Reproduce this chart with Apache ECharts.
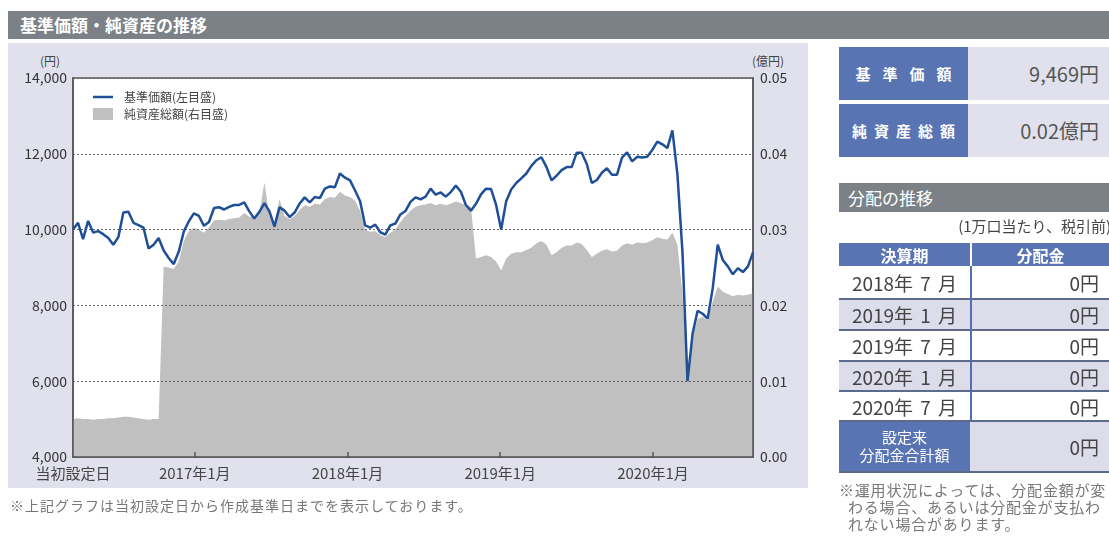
<!DOCTYPE html>
<html><head><meta charset="utf-8">
<script src="https://cdn.jsdelivr.net/npm/echarts@6/dist/echarts.min.js"></script>
<style>
html,body{margin:0;padding:0;background:#fff;}
body{width:1109px;height:536px;overflow:hidden;position:relative;font-family:"Noto Sans CJK JP","Noto Sans",sans-serif;}
.abs{position:absolute;box-sizing:border-box;}
.bar{background:#7b8186;color:#fff;font-weight:bold;}
.blue{background:#5874b2;color:#fff;}
.lav{background:#e1e1ed;}
.cellL{display:flex;align-items:center;justify-content:center;color:#444;font-size:19px;word-spacing:3px;}
.cellR{display:flex;align-items:center;justify-content:flex-end;padding-right:10px;color:#444;font-size:19px;}
.note{position:absolute;font-size:14px;line-height:17px;height:17px;color:#777;white-space:nowrap;}
</style></head>
<body>
<div class="abs bar" style="left:8px;top:11px;width:1101px;height:28px;font-size:17px;line-height:28px;padding-left:12px;">基準価額・純資産の推移</div>
<div class="abs lav" style="left:8px;top:43px;width:800px;height:445px;"></div>
<div class="abs" style="left:40px;top:52px;font-size:12px;color:#444;">(円)</div>
<div class="abs" style="left:752px;top:52px;font-size:12px;color:#444;">(億円)</div>
<div id="chart" class="abs" style="left:0;top:0;width:1109px;height:536px;"></div>
<div class="note" style="left:10px;top:497px;letter-spacing:1px;">※上記グラフは当初設定日から作成基準日までを表示しております。</div>

<div class="abs blue" style="left:839px;top:47px;width:129px;height:53px;display:flex;align-items:center;justify-content:center;font-size:15px;font-weight:bold;letter-spacing:12px;padding-left:12px;">基準価額</div>
<div class="abs lav cellR" style="left:968px;top:47px;width:141px;height:53px;font-size:20px;color:#555;">9,469円</div>
<div class="abs blue" style="left:839px;top:104px;width:129px;height:53px;display:flex;align-items:center;justify-content:center;font-size:15px;font-weight:bold;letter-spacing:7px;padding-left:7px;">純資産総額</div>
<div class="abs lav cellR" style="left:968px;top:104px;width:141px;height:53px;font-size:20px;color:#555;">0.02億円</div>

<div class="abs bar" style="left:839px;top:183px;width:270px;height:29px;font-size:17px;line-height:29px;padding-left:9px;font-weight:normal;">分配の推移</div>
<div class="abs" style="left:839px;top:215px;width:272px;height:22px;line-height:22px;text-align:right;font-size:15px;color:#444;white-space:nowrap;">(1万口当たり、税引前)</div>

<div class="abs blue" style="left:839px;top:243px;width:131px;height:23px;display:flex;align-items:center;justify-content:center;font-size:16px;font-weight:bold;">決算期</div>
<div class="abs blue" style="left:972px;top:243px;width:137px;height:23px;display:flex;align-items:center;justify-content:center;font-size:16px;font-weight:bold;">分配金</div>
<div id="rows"></div>
<div class="note" style="left:839px;top:481px;font-size:15px;letter-spacing:0.8px;">※運用状況によっては、分配金額が変</div>
<div class="note" style="left:848px;top:498px;font-size:15px;letter-spacing:0.8px;">わる場合、あるいは分配金が支払わ</div>
<div class="note" style="left:848px;top:515px;font-size:15px;letter-spacing:0.8px;">れない場合があります。</div>

<script>
// ---- data ----
const title = '基準価額・純資産の推移';
const startDate = new Date(2016, 2, 16).getTime();
const endDate = new Date(2020, 7, 27).getTime();
const yearTicks = [2017, 2018, 2019, 2020];
const navName = '基準価額(左目盛)';
const assetName = '純資産総額(右目盛)';
const navValues = [
  10000, 10180, 9750, 10230, 9920, 9960, 9880, 9780, 9600, 9800,
  10450, 10470, 10180, 10120, 10050, 9500, 9600, 9780, 9450, 9250,
  9090, 9420, 9950, 10220, 10430, 10360, 10100, 10200, 10570, 10590,
  10530, 10600, 10650, 10650, 10720, 10480, 10290, 10470, 10700, 10480,
  10080, 10590, 10500, 10330, 10450, 10690, 10850, 10720, 10860, 10830,
  11080, 11140, 11120, 11480, 11370, 11300, 11030, 10750, 10110, 10050,
  10130, 9930, 9870, 10110, 10160, 10400, 10490, 10730, 10850, 10800,
  10870, 11080, 10920, 10980, 10870, 10990, 11160, 11000, 10650, 10500,
  10680, 10930, 11080, 11070, 10650, 10000, 10750, 11060, 11230, 11350,
  11480, 11680, 11830, 11910, 11650, 11300, 11420, 11570, 11650, 11650,
  12030, 12030, 11730, 11230, 11310, 11500, 11620, 11450, 11450, 11900,
  12040, 11800, 11920, 11900, 11920, 12100, 12320, 12250, 12150, 12620,
  11450, 9400, 6000, 7250, 7860, 7780, 7650, 8450, 9600, 9200,
  9030, 8820, 8980, 8880, 9030, 9400
];
const assetValues = [
  0.0050, 0.0051, 0.0050, 0.0050, 0.0049, 0.0050, 0.0050, 0.0051, 0.0051, 0.0052,
  0.0053, 0.0053, 0.0052, 0.0051, 0.0050, 0.0049, 0.0050, 0.0050, 0.0251, 0.0250,
  0.0248, 0.0258, 0.0285, 0.0298, 0.0302, 0.0300, 0.0296, 0.0303, 0.0312, 0.0313,
  0.0312, 0.0314, 0.0315, 0.0316, 0.0322, 0.0317, 0.0318, 0.0322, 0.0362, 0.0318,
  0.0310, 0.0340, 0.0318, 0.0314, 0.0318, 0.0326, 0.0332, 0.0330, 0.0334, 0.0333,
  0.0340, 0.0343, 0.0342, 0.0350, 0.0345, 0.0343, 0.0338, 0.0325, 0.0300, 0.0297,
  0.0298, 0.0293, 0.0290, 0.0296, 0.0300, 0.0310, 0.0318, 0.0325, 0.0330, 0.0332,
  0.0333, 0.0335, 0.0332, 0.0334, 0.0332, 0.0334, 0.0337, 0.0335, 0.0332, 0.0330,
  0.0262, 0.0264, 0.0266, 0.0264, 0.0258, 0.0246, 0.0262, 0.0268, 0.0270, 0.0270,
  0.0273, 0.0276, 0.0282, 0.0285, 0.0280, 0.0266, 0.0270, 0.0276, 0.0279, 0.0279,
  0.0283, 0.0281, 0.0273, 0.0264, 0.0268, 0.0272, 0.0274, 0.0271, 0.0272, 0.0279,
  0.0282, 0.0280, 0.0283, 0.0282, 0.0283, 0.0286, 0.0290, 0.0288, 0.0287, 0.0296,
  0.0280, 0.0215, 0.0105, 0.0160, 0.0182, 0.0185, 0.0180, 0.0205, 0.0225, 0.0218,
  0.0215, 0.0212, 0.0214, 0.0213, 0.0214, 0.0216
];
const leftTicks = [4000, 14000, 2000];
const rightTicks = [0, 0.05, 0.01];
const distPeriods = ['2018年 7 月', '2019年 1 月', '2019年 7 月', '2020年 1 月', '2020年 7 月'];
const distAmounts = ['0円', '0円', '0円', '0円', '0円'];
const distTotal = '0円';

// ---- table ----
(function(){
  const rows = document.getElementById('rows');
  let html = '';
  const tops = [266, 300, 331, 362, 392];
  distPeriods.forEach((p, i) => {
    const top = tops[i];
    const h = (i < 4 ? tops[i+1] : 422) - top;
    const bg = i % 2 === 1 ? '#dcdcea' : '#fff';
    html += `<div class="abs cellL" style="left:839px;top:${top}px;width:131px;height:${h-2}px;background:${bg};">${p}</div>`;
    html += `<div class="abs cellR" style="left:972px;top:${top}px;width:137px;height:${h-2}px;background:${bg};">${distAmounts[i]}</div>`;
    html += `<div class="abs" style="left:839px;top:${top+h-2}px;width:270px;height:2px;background:#5d6a8c;"></div>`;
  });
  html += `<div class="abs" style="left:970px;top:266px;width:2px;height:156px;background:#4f70b2;"></div>`;
  html += `<div class="abs blue" style="left:839px;top:422px;width:131px;height:49px;"></div>`;
  html += `<div class="abs" style="left:839px;top:428px;width:131px;height:18px;line-height:18px;text-align:center;font-size:15px;color:#fff;">設定来</div>`;
  html += `<div class="abs" style="left:839px;top:446px;width:131px;height:18px;line-height:18px;text-align:center;font-size:15px;color:#fff;">分配金合計額</div>`;
  html += `<div class="abs cellR" style="left:970px;top:422px;width:139px;height:49px;background:#dcdcea;">${distTotal}</div>`;
  html += `<div class="abs" style="left:839px;top:471px;width:270px;height:2px;background:#5d6a8c;"></div>`;
  rows.innerHTML = html;
})();

// ---- chart ----
const step = (endDate - startDate) / (navValues.length - 1);
const times = navValues.map((_, i) => startDate + i * step);
const navData = times.map((t, i) => [t, navValues[i]]);
const assetData = times.map((t, i) => [t, assetValues[i]]);
const yearTickTimes = yearTicks.map(y => new Date(y, 0, 1).getTime());

const chart = echarts.init(document.getElementById('chart'), null, {renderer: 'canvas'});
const font = '"Noto Sans CJK JP","Noto Sans",sans-serif';
chart.setOption({
  animation: false,
  textStyle: {fontFamily: font},
  grid: {left: 73, top: 78, width: 680, height: 379, show: true, backgroundColor: '#fff', borderColor: '#555', borderWidth: 1.5},
  legend: [
    {data: [navName], left: 88, top: 86, orient: 'vertical', icon: 'rect', itemWidth: 20, itemHeight: 2.5,
     textStyle: {fontSize: 12, color: '#444', padding: [0,0,0,6]}},
    {data: [assetName], left: 88, top: 103, orient: 'vertical', icon: 'rect', itemWidth: 20, itemHeight: 12,
     textStyle: {fontSize: 12, color: '#444', padding: [0,0,0,6]}}
  ],
  xAxis: {
    type: 'value', min: startDate, max: endDate, z: 3,
    axisLine: {show: true, lineStyle: {color: '#555', width: 1.5}},
    axisTick: {show: true, inside: true, length: 5, customValues: yearTickTimes, lineStyle: {color: '#555', width: 1.5}},
    axisLabel: {
      customValues: [startDate].concat(yearTickTimes),
      fontSize: 15, color: '#444', margin: 9, hideOverlap: false,
      formatter: (v) => {
        if (Math.abs(v - startDate) < 86400000) return '当初設定日';
        const d = new Date(v);
        return d.getFullYear() + '年' + (d.getMonth() + 1) + '月';
      }
    },
    splitLine: {show: false}
  },
  yAxis: [
    {type: 'value', min: leftTicks[0], max: leftTicks[1], interval: leftTicks[2], position: 'left', z: 3,
     axisLine: {show: true, lineStyle: {color: '#555', width: 1.5}}, axisTick: {show: false},
     axisLabel: {fontSize: 14, color: '#333', margin: 6, formatter: v => v.toLocaleString('en-US')},
     splitLine: {show: true, lineStyle: {color: '#666', type: [2, 2], width: 1}}},
    {type: 'value', min: rightTicks[0], max: rightTicks[1], interval: rightTicks[2], position: 'right', z: 3,
     axisLine: {show: true, lineStyle: {color: '#555', width: 1.5}}, axisTick: {show: false},
     axisLabel: {fontSize: 14, color: '#333', margin: 7, formatter: v => v.toFixed(2)},
     splitLine: {show: false}}
  ],
  series: [
    {name: assetName, type: 'line', yAxisIndex: 1, data: assetData, showSymbol: false, z: 1,
     itemStyle: {color: '#c0c0c0'}, lineStyle: {width: 0, color: '#c0c0c0'}, areaStyle: {color: '#c0c0c0', opacity: 1}},
    {name: navName, type: 'line', yAxisIndex: 0, data: navData, showSymbol: false, z: 4,
     itemStyle: {color: '#1f4f97'}, lineStyle: {width: 2.5, color: '#1f4f97'}}
  ]
});
</script>
</body></html>
